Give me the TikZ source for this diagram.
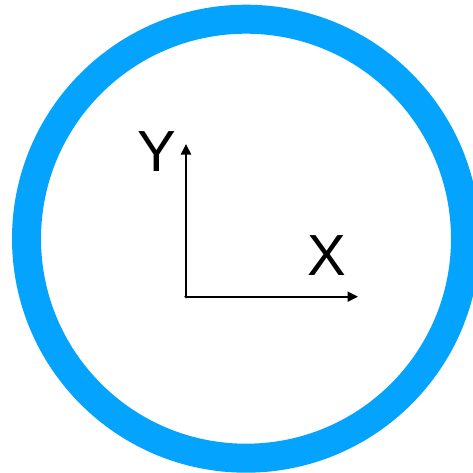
\documentclass[tikz,border=0pt]{standalone}
\usepackage{fontspec}
\setmainfont{Liberation Sans}
\usetikzlibrary{arrows.meta}
\definecolor{ringblue}{RGB}{4,163,254}
\tikzset{
  axis/.style={line width=2pt, -{Triangle[length=10.5pt,width=10pt]}},
  lbl/.style={font=\fontsize{58}{60}\selectfont, inner sep=0pt, anchor=base}
}
\begin{document}
\begin{tikzpicture}[x=1pt,y=1pt]
\useasboundingbox (0,0) rectangle (473,472);
\fill[white] (0,0) rectangle (473,472);
\draw[ringblue, line width=29pt] (246,233.3) circle (219.5);
\coordinate (o) at (186,175.3);
\coordinate (ytip) at (186,328);
\coordinate (xtip) at (358,175.3);
\draw[axis] (o) -- (ytip);
\draw[axis] (o) -- (xtip);
\fill (o) circle (1.8);
\node[lbl] (ylab) at (157.3,300.7) {Y};
\node[lbl] (xlab) at (326.5,196.7) {X};
\end{tikzpicture}
\end{document}
